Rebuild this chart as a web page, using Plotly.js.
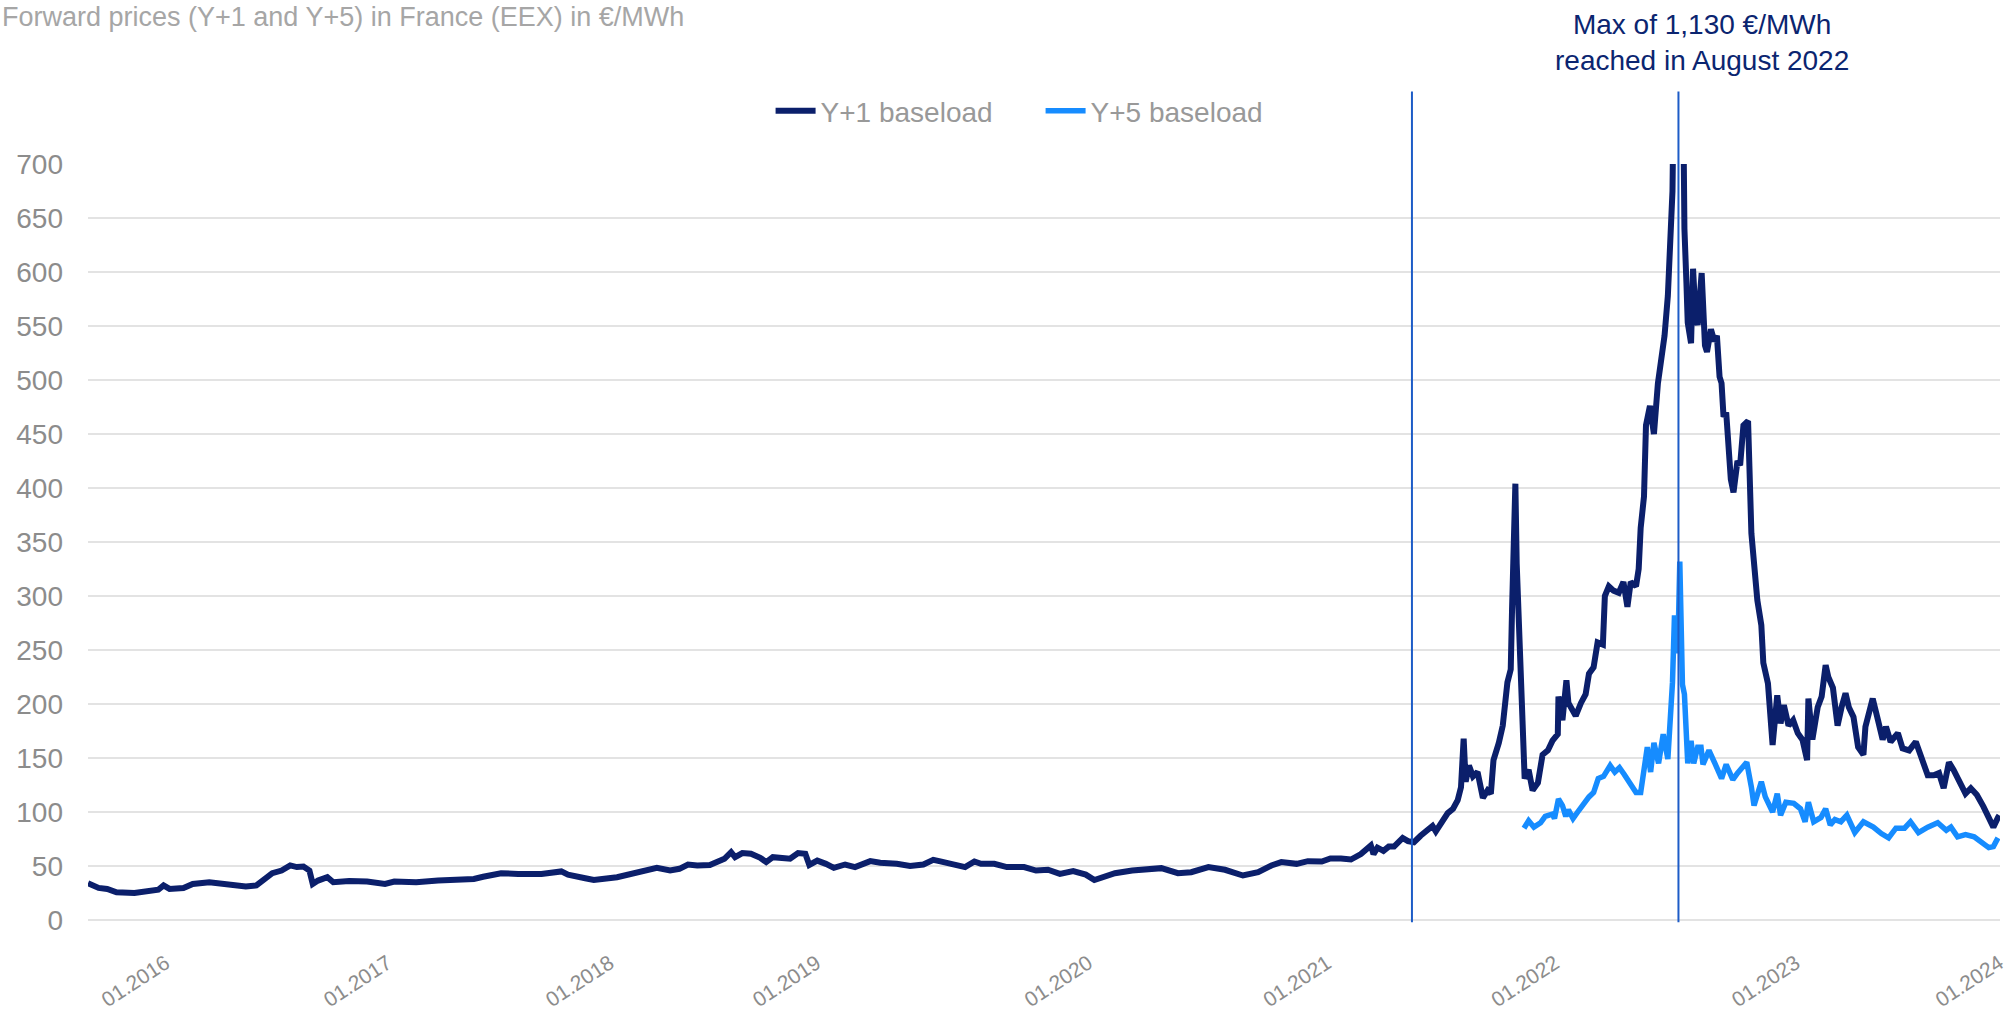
<!DOCTYPE html>
<html>
<head>
<meta charset="utf-8">
<script src="https://cdn.plot.ly/plotly-3.0.1.min.js"></script>
<style>html,body{margin:0;padding:0;background:#fff;}#chart{width:2010px;height:1020px;}</style>
</head>
<body>
<div id="chart"></div>
<script>
// ---------- Data ----------
const y1Dates = [
'2016-01-29','2016-02-14','2016-02-27','2016-03-12','2016-04-08','2016-04-28','2016-05-14','2016-05-22','2016-05-31','2016-06-21',
'2016-07-05','2016-07-30','2016-08-26','2016-09-23','2016-10-09','2016-10-20','2016-11-02','2016-11-16','2016-11-29','2016-12-09',
'2016-12-19','2016-12-28','2017-01-02','2017-01-10','2017-01-24','2017-02-02','2017-02-26','2017-03-25','2017-04-21','2017-05-05',
'2017-06-07','2017-07-10','2017-08-12','2017-09-02','2017-09-16','2017-10-13','2017-11-08','2017-12-13','2018-01-12','2018-01-22',
'2018-02-17','2018-03-02','2018-04-06','2018-05-03','2018-05-23','2018-06-05','2018-06-25','2018-07-09','2018-07-22','2018-08-05',
'2018-08-24','2018-09-15','2018-09-25','2018-10-01','2018-10-12','2018-10-25','2018-11-08','2018-11-17','2018-11-27','2018-12-10',
'2018-12-23','2019-01-04','2019-01-15','2019-01-21','2019-02-02','2019-02-15','2019-02-27','2019-03-16','2019-03-31','2019-04-23',
'2019-05-08','2019-06-02','2019-06-22','2019-07-12','2019-07-27','2019-08-05','2019-08-24','2019-09-13','2019-09-27','2019-10-07',
'2019-10-27','2019-11-15','2019-12-11','2019-12-29','2020-01-16','2020-02-03','2020-02-23','2020-03-13','2020-03-26','2020-04-07',
'2020-04-26','2020-05-22','2020-06-17','2020-07-05','2020-07-30','2020-08-19','2020-09-14','2020-10-09','2020-11-05','2020-11-28',
'2020-12-18','2021-01-02','2021-01-25','2021-02-11','2021-03-04','2021-03-17','2021-04-02','2021-04-17','2021-05-02','2021-05-12',
'2021-05-17','2021-05-21','2021-05-27','2021-06-05','2021-06-13','2021-06-21','2021-07-04','2021-07-12','2021-07-21','2021-07-31',
'2021-08-11','2021-08-18','2021-08-23','2021-08-30','2021-09-10','2021-09-18','2021-09-25','2021-09-30','2021-10-04','2021-10-07',
'2021-10-12','2021-10-18','2021-10-25','2021-11-02','2021-11-09','2021-11-14','2021-11-18','2021-11-26','2021-12-02','2021-12-09',
'2021-12-14','2021-12-16','2021-12-21','2021-12-23','2021-12-27','2021-12-30','2022-01-04','2022-01-10','2022-01-16','2022-01-24',
'2022-01-31','2022-02-08','2022-02-15','2022-02-23','2022-02-24','2022-03-02','2022-03-08','2022-03-11','2022-03-17','2022-03-22',
'2022-03-30','2022-04-06','2022-04-11','2022-04-18','2022-04-24','2022-05-02','2022-05-05','2022-05-11','2022-05-18','2022-05-26',
'2022-06-02','2022-06-08','2022-06-13','2022-06-21','2022-06-25','2022-06-28','2022-07-03','2022-07-06','2022-07-12','2022-07-18',
'2022-07-24','2022-07-30','2022-08-03','2022-08-08','2022-08-11','2022-08-15','2022-08-17','2022-08-22','2022-08-26','2022-08-29',
'2022-08-31','2022-09-02','2022-09-05','2022-09-07','2022-09-12','2022-09-15','2022-09-19','2022-09-22','2022-09-28','2022-10-03',
'2022-10-06','2022-10-12','2022-10-17','2022-10-21','2022-10-25','2022-10-28','2022-10-31','2022-11-04','2022-11-11','2022-11-15',
'2022-11-21','2022-11-25','2022-11-30','2022-12-07','2022-12-12','2022-12-21','2022-12-27','2022-12-30','2023-01-06','2023-01-10',
'2023-01-13','2023-01-20','2023-01-25','2023-01-30','2023-02-06','2023-02-13','2023-02-20','2023-02-27','2023-03-06','2023-03-08',
'2023-03-14','2023-03-22','2023-03-28','2023-04-03','2023-04-07','2023-04-14','2023-04-21','2023-04-27','2023-05-03','2023-05-08',
'2023-05-15','2023-05-22','2023-05-30','2023-06-02','2023-06-13','2023-06-21','2023-06-28','2023-07-03','2023-07-10','2023-07-21',
'2023-07-28','2023-08-07','2023-08-17','2023-08-24','2023-09-04','2023-09-13','2023-09-21','2023-09-28','2023-10-06','2023-10-13',
'2023-10-20','2023-10-31','2023-11-08','2023-11-17','2023-11-27','2023-12-04','2023-12-12','2023-12-19','2023-12-21'
];
const y1Values = [
34,29.7,28.8,25.7,25,26.6,28,32,28.8,29.7,
33.4,35,33.4,31,32,38,43.3,45.8,50.5,49,
49.5,45.8,33.4,36.5,39.6,35,36,35.6,33.4,35.6,
35,36.5,37,38,40,43.3,42.7,42.7,45,42,
38.7,37,39.6,43.3,45.2,48.3,45.8,47.4,51.4,50.5,
51,56.7,62.8,58.2,62,61.3,57.6,53.6,58.2,57.3,
56.7,62,61.3,51,55,52,48.3,51.4,49,54.5,
53,52,50,51.4,55.7,54.5,51.4,49,54.2,52,
52,49,49,45.8,46.5,42.7,45.2,42,37,40,
43.3,45.8,46.5,48,43.3,44.3,49,46.5,41.2,44.3,
50.5,53.6,52,54.5,54.2,57,57,56,61,66,
69,61,67,64,68,68,76,73,72,78,
83,87,82,89,99,103,111,123,168,128,
143,133,137,113,120,117,148,164,180,220,
232,288,404,330,263,249,131,139,120,127,
153,157,166,172,207,185,222,201,193,189,
201,209,228,234,257,255,300,309,305,303,
313,290,313,309,325,363,392,458,476,450,
497,520,541,578,617,675,780,960,1130,900,
750,640,590,553,534,603,557,551,599,532,
526,547,536,541,503,497,466,470,408,396,
425,421,458,462,358,296,273,238,219,194,
162,208,182,199,180,185,173,167,148,205,
167,197,207,236,225,215,180,197,210,197,
188,160,153,179,205,185,167,179,165,173,
159,157,165,153,134,134,136,122,146,139,
130,117,122,116,105,95,86,95,97
];

const y5Dates = [
'2022-01-03','2022-01-10','2022-01-18','2022-01-28','2022-02-04','2022-02-15','2022-02-18','2022-02-24','2022-03-02','2022-03-07',
'2022-03-11','2022-03-18','2022-03-25','2022-04-01','2022-04-11','2022-04-18','2022-04-25','2022-05-03','2022-05-13','2022-05-20',
'2022-05-27','2022-06-03','2022-06-13','2022-06-21','2022-06-28','2022-07-04','2022-07-08','2022-07-13','2022-07-18','2022-07-25',
'2022-08-01','2022-08-08','2022-08-11','2022-08-15','2022-08-18','2022-08-23','2022-08-26','2022-08-30','2022-09-02','2022-09-07',
'2022-09-12','2022-09-16','2022-09-22','2022-09-27','2022-09-30','2022-10-09','2022-10-18','2022-10-28','2022-11-04','2022-11-14',
'2022-11-21','2022-12-05','2022-12-12','2022-12-16','2022-12-27','2023-01-02','2023-01-13','2023-01-20','2023-01-25','2023-02-02',
'2023-02-14','2023-02-24','2023-03-03','2023-03-08','2023-03-16','2023-03-27','2023-04-03','2023-04-10','2023-04-17','2023-04-26',
'2023-05-05','2023-05-17','2023-05-30','2023-06-14','2023-06-26','2023-07-07','2023-07-18','2023-07-31','2023-08-09','2023-08-21',
'2023-09-04','2023-09-19','2023-10-02','2023-10-09','2023-10-19','2023-10-31','2023-11-13','2023-11-27','2023-12-05','2023-12-12',
'2023-12-19'
];
const y5Values = [
85,92,86,90,96,98,94,112,106,96,
102,94,100,106,114,118,131,133,143,137,
141,135,125,118,118,139,160,137,164,145,
172,149,180,220,282,247,332,218,209,145,
166,145,160,160,144,157,145,131,144,130,
136,146,123,106,128,114,100,117,97,109,
108,103,91,109,91,95,103,88,93,91,
97,81,91,86,80,76,85,85,91,81,
86,90,83,86,77,79,77,71,67,68,
76
];

const seriesNames = ['Y+1 baseload', 'Y+5 baseload'];
const tickDates = ['2016-05-25','2017-04-25','2018-03-26','2019-02-01','2020-03-17','2021-03-12','2022-02-19','2023-02-17','2023-12-21'];
const tickText  = ['01.2016','01.2017','01.2018','01.2019','01.2020','01.2021','01.2022','01.2023','01.2024'];
const yTicks = [0,50,100,150,200,250,300,350,400,450,500,550,600,650,700];
const markerDates = ['2021-07-18','2022-08-24'];
const chartTitle = 'Forward prices (Y+1 and Y+5) in France (EEX) in €/MWh';
const noteText = 'Max of 1,130 €/MWh<br>reached in August 2022';

// ---------- Chart ----------
const FONT = 'Arial, "Liberation Sans", sans-serif';
const traces = [
  {x: y1Dates, y: y1Values, name: seriesNames[0], type: 'scatter', mode: 'lines',
   line: {color: '#0b1f6b', width: 6}},
  {x: y5Dates, y: y5Values, name: seriesNames[1], type: 'scatter', mode: 'lines',
   line: {color: '#168cff', width: 5.5}}
];

const shapes = markerDates.map(d => ({
  type: 'line', xref: 'x', yref: 'paper', x0: d, x1: d, y0: -0.003, y1: 1.096,
  line: {color: '#1d5cc7', width: 2}
}));

const layout = {
  width: 2010, height: 1020,
  paper_bgcolor: '#ffffff', plot_bgcolor: '#ffffff',
  margin: {l: 88, r: 10, t: 164, b: 100, pad: 0},
  font: {family: FONT, color: '#8c8c8c'},
  title: {text: chartTitle, x: 0.001, xref: 'container', xanchor: 'left',
          y: 0.993, yref: 'container', yanchor: 'top',
          font: {size: 27, color: '#a6a6a6', family: FONT}},
  showlegend: true,
  legend: {orientation: 'h', x: 0.357, xanchor: 'left', y: 1.07, yanchor: 'middle',
           font: {size: 28, color: '#999999', family: FONT}, itemwidth: 40,
           entrywidth: 215, entrywidthmode: 'pixels',
           bgcolor: 'rgba(0,0,0,0)'},
  xaxis: {type: 'date', range: ['2016-01-29', '2023-12-22'],
          tickmode: 'array', tickvals: tickDates, ticktext: tickText,
          tickangle: -33, tickfont: {size: 21, color: '#8c8c8c', family: FONT},
          ticklabelstandoff: 26,
          showgrid: false, zeroline: false, showline: false, ticks: ''},
  yaxis: {range: [0, 700], tickmode: 'array', tickvals: yTicks,
          tickfont: {size: 28, color: '#8c8c8c', family: FONT},
          showgrid: true, gridcolor: '#e3e3e3', gridwidth: 2,
          zeroline: true, zerolinecolor: '#e3e3e3', zerolinewidth: 2,
          showline: false, ticks: '', ticklabelstandoff: 24},
  shapes: shapes,
  annotations: [{
    text: noteText, xref: 'paper', yref: 'paper', x: 0.844, y: 1.161,
    xanchor: 'center', yanchor: 'middle', showarrow: false, align: 'center',
    font: {size: 28, color: '#0b2570', family: FONT}
  }]
};

Plotly.newPlot('chart', traces, layout, {displayModeBar: false, staticPlot: true});
</script>
</body>
</html>
